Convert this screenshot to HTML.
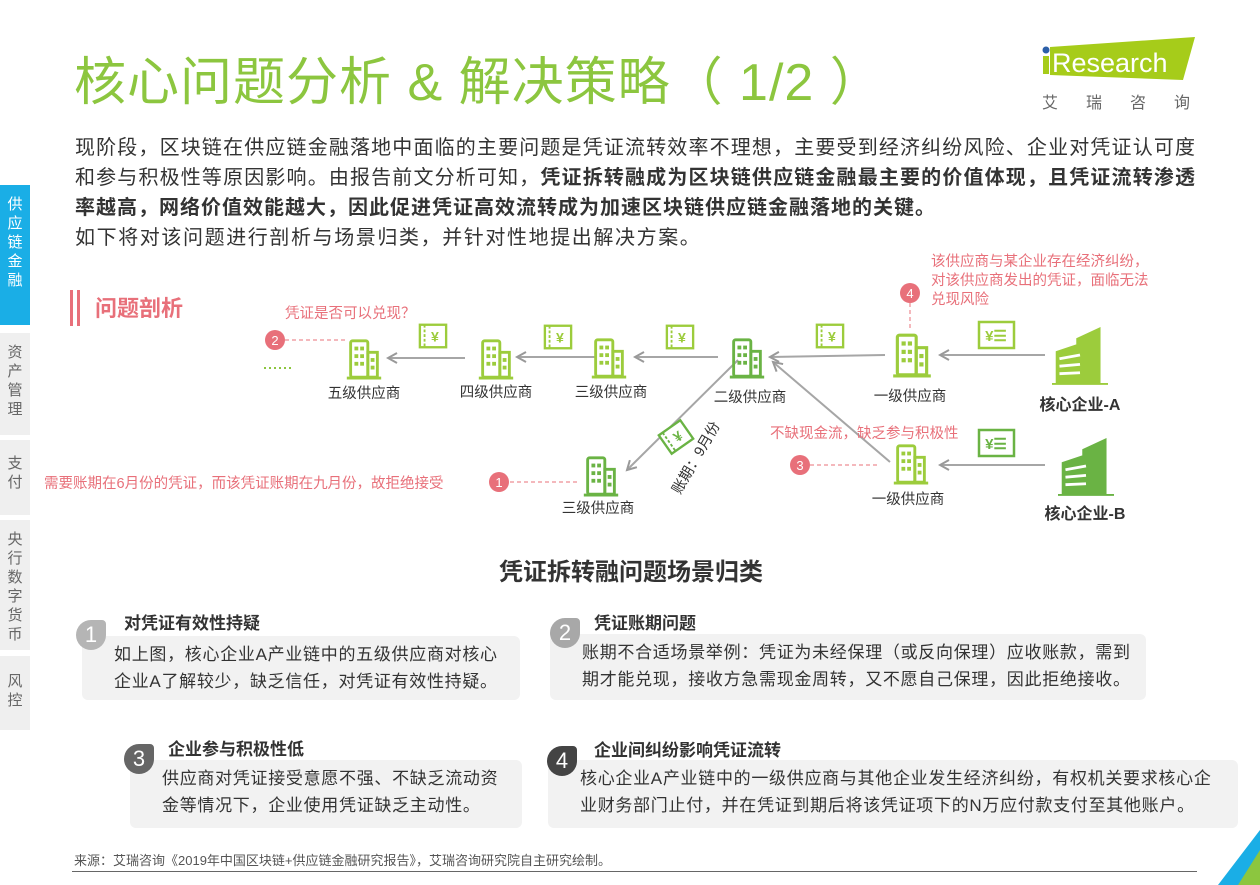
<!DOCTYPE html>
<html><head><meta charset="utf-8">
<style>
*{margin:0;padding:0;box-sizing:border-box}
body{width:1260px;height:885px;background:#fff;position:relative;overflow:hidden;font-family:"Liberation Sans","Noto Sans CJK SC",sans-serif;color:#333}
.a{position:absolute;white-space:nowrap}
.tab{position:absolute;left:0;width:30px;background:#efefef;color:#666;font-size:15px;line-height:19px;text-align:center;padding-top:10px}
.box{position:absolute;background:#f2f2f2;border-radius:6px;font-size:17px;letter-spacing:0.7px;line-height:27px;color:#333;padding:5px 0 0 32px;white-space:nowrap}
.num{position:absolute;width:30px;height:30px;border-radius:15px 4px 15px 15px;color:#fff;font-size:22px;text-align:center;line-height:30px}
.h{position:absolute;font-size:17px;font-weight:bold;color:#333;white-space:nowrap}
.pl{position:absolute;left:75px;width:1120px;font-size:20px;height:30px;line-height:30px;text-align:justify;text-align-last:justify;white-space:nowrap;color:#333}
</style></head><body>
<div class="a" style="left:74px;top:40px;font-size:52px;color:#8cc63f;letter-spacing:1px">核心问题分析 &amp; 解决策略（ 1/2 ）</div>
<svg class="a" style="left:1040px;top:35px" width="160" height="80">
<polygon points="10,12 155,2 143,45 10,40" fill="#a6cc1a"/>
<circle cx="6" cy="15" r="3.5" fill="#2b5fa8"/>
<rect x="3" y="21" width="6" height="18" fill="#a6cc1a"/>
<text x="12" y="37" font-family="Liberation Sans" font-size="27" fill="#fff">Research</text>
<text x="2" y="73" font-family="Noto Sans CJK SC" font-size="16" fill="#666" letter-spacing="28">艾瑞咨询</text>
</svg>
<div class="pl" style="top:133px">现阶段，区块链在供应链金融落地中面临的主要问题是凭证流转效率不理想，主要受到经济纠纷风险、企业对凭证认可度</div>
<div class="pl" style="top:163px">和参与积极性等原因影响。由报告前文分析可知，<b>凭证拆转融成为区块链供应链金融最主要的价值体现，且凭证流转渗透</b></div>
<div class="pl" style="top:193px;width:860px"><b>率越高，网络价值效能越大，因此促进凭证高效流转成为加速区块链供应链金融落地的关键。</b></div>
<div class="a" style="left:75px;top:223px;font-size:20px;line-height:30px;letter-spacing:1.6px">如下将对该问题进行剖析与场景归类，并针对性地提出解决方案。</div>
<div class="tab" style="top:185px;height:140px;background:#1aaee6;color:#fff">供<br>应<br>链<br>金<br>融</div>
<div class="tab" style="top:333px;height:102px">资<br>产<br>管<br>理</div>
<div class="tab" style="top:440px;height:75px;padding-top:14px">支<br>付</div>
<div class="tab" style="top:520px;height:130px">央<br>行<br>数<br>字<br>货<br>币</div>
<div class="tab" style="top:656px;height:74px;padding-top:16px">风<br>控</div>
<div class="a" style="left:70px;top:290px;width:3px;height:36px;background:#e8707a"></div>
<div class="a" style="left:77px;top:290px;width:3px;height:36px;background:#e8707a"></div>
<div class="a" style="left:95px;top:291px;font-size:22px;font-weight:bold;color:#e8707a">问题剖析</div>
<svg class="a" style="left:0;top:0" width="1260" height="560" font-family="Liberation Sans,Noto Sans CJK SC,sans-serif">
<defs>
<symbol id="b" viewBox="0 0 36 44"><g fill="none" stroke="currentColor" stroke-width="3"><rect x="4" y="3" width="18" height="38" rx="2"/><rect x="22" y="15" width="10" height="26"/><line x1="0" y1="42" x2="36" y2="42"/></g><g fill="currentColor"><rect x="8" y="9" width="4" height="4"/><rect x="14" y="9" width="4" height="4"/><rect x="8" y="17" width="4" height="4"/><rect x="14" y="17" width="4" height="4"/><rect x="8" y="25" width="4" height="4"/><rect x="14" y="25" width="4" height="4"/><rect x="25" y="21" width="4" height="4"/><rect x="25" y="29" width="4" height="4"/></g></symbol>
<symbol id="c" viewBox="0 0 60 64"><path d="M26 14 L52 2 L52 62 L26 62Z M4 28 L34 18 L34 62 L4 62Z" fill="currentColor"/><g stroke="#fff" stroke-width="3"><line x1="8" y1="36" x2="30" y2="32"/><line x1="8" y1="44" x2="30" y2="42"/><line x1="8" y1="52" x2="30" y2="51"/></g><line x1="0" y1="63" x2="60" y2="63" stroke="currentColor" stroke-width="2"/></symbol>
<symbol id="v" viewBox="0 0 32 28"><rect x="2" y="2" width="28" height="24" fill="#fff" stroke="currentColor" stroke-width="2.5"/><path d="M7 2 v24" stroke="currentColor" stroke-dasharray="3 2" stroke-width="2"/><text x="18" y="20" font-size="15" font-weight="bold" fill="currentColor" text-anchor="middle">¥</text></symbol>
<marker id="ar" markerWidth="12" markerHeight="12" refX="10" refY="6" orient="auto" markerUnits="userSpaceOnUse"><path d="M1 1 L10 6 L1 11" fill="none" stroke="#999" stroke-width="2"/></marker>
</defs>
<g stroke="#a6a6a6" stroke-width="2" fill="none">
<line x1="465" y1="358" x2="388" y2="358" marker-end="url(#ar)"/>
<line x1="595" y1="357" x2="517" y2="357" marker-end="url(#ar)"/>
<line x1="718" y1="357" x2="635" y2="357" marker-end="url(#ar)"/>
<line x1="885" y1="355" x2="770" y2="357" marker-end="url(#ar)"/>
<line x1="1045" y1="355" x2="940" y2="355" marker-end="url(#ar)"/>
<line x1="1045" y1="465" x2="940" y2="465" marker-end="url(#ar)"/>
<line x1="738" y1="360" x2="627" y2="470" marker-end="url(#ar)"/>
<line x1="890" y1="462" x2="773" y2="362" marker-end="url(#ar)"/>
</g>
<g stroke="#e8707a" stroke-width="1" stroke-dasharray="4 3" fill="none">
<line x1="285" y1="340" x2="345" y2="340"/>
<line x1="510" y1="482" x2="578" y2="482"/>
<line x1="810" y1="465" x2="878" y2="465"/>
<line x1="910" y1="303" x2="910" y2="330"/>
</g>
<line x1="264" y1="368" x2="294" y2="368" stroke="#8cc63f" stroke-width="2" stroke-dasharray="2 3"/>
<g color="#9ccc3c">
<use href="#b" x="346" y="338" width="36" height="42"/>
<use href="#b" x="478" y="338" width="36" height="42"/>
<use href="#b" x="591" y="337" width="36" height="42"/>
<use href="#b" x="893" y="332" width="38" height="46"/>
<use href="#v" x="418" y="322" width="30" height="28"/>
<use href="#v" x="543" y="323" width="30" height="28"/>
<use href="#v" x="665" y="323" width="30" height="28"/>
<use href="#v" x="815" y="322" width="30" height="28"/>
<use href="#b" x="893" y="443" width="36" height="42"/>
<use href="#c" x="1052" y="325" width="56" height="60"/>
</g>
<g color="#6ab344">
<use href="#b" x="728" y="337" width="38" height="42"/>
<use href="#b" x="583" y="455" width="36" height="42"/>
<use href="#c" x="1058" y="436" width="56" height="60"/>
<use href="#v" x="661" y="423" width="30" height="28" transform="rotate(-35 676 437)"/>
</g>
<g><rect x="979" y="322" width="35" height="26" fill="#fff" stroke="#9ccc3c" stroke-width="2.5"/><text x="996" y="341" font-size="15" font-weight="bold" fill="#9ccc3c" text-anchor="middle">¥☰</text></g>
<g><rect x="979" y="430" width="35" height="26" fill="#fff" stroke="#6ab344" stroke-width="2.5"/><text x="996" y="449" font-size="15" font-weight="bold" fill="#6ab344" text-anchor="middle">¥☰</text></g>
<g font-size="14.5" fill="#333" text-anchor="middle">
<text x="364" y="398">五级供应商</text><text x="496" y="397">四级供应商</text><text x="611" y="397">三级供应商</text>
<text x="750" y="402">二级供应商</text><text x="910" y="401">一级供应商</text><text x="598" y="513">三级供应商</text><text x="908" y="504">一级供应商</text>
</g>
<g font-size="16" font-weight="bold" fill="#333" text-anchor="middle"><text x="1080" y="410">核心企业-A</text><text x="1085" y="519">核心企业-B</text></g>
<text x="0" y="0" font-size="14.5" fill="#333" transform="translate(680,495) rotate(-60)">账期：9月份</text>
<g font-size="14.5" fill="#e8707a">
<text x="285" y="318">凭证是否可以兑现？</text>
<text x="44" y="488">需要账期在6月份的凭证，而该凭证账期在九月份，故拒绝接受</text>
<text x="770" y="438">不缺现金流，缺乏参与积极性</text>
<text x="931" y="266">该供应商与某企业存在经济纠纷，</text>
<text x="931" y="285">对该供应商发出的凭证，面临无法</text>
<text x="931" y="304">兑现风险</text>
</g>
<g font-size="13" fill="#fff" text-anchor="middle">
<circle cx="275" cy="340" r="10" fill="#e8707a"/><text x="275" y="345">2</text>
<circle cx="499" cy="482" r="10" fill="#e8707a"/><text x="499" y="487">1</text>
<circle cx="800" cy="465" r="10" fill="#e8707a"/><text x="800" y="470">3</text>
<circle cx="910" cy="293" r="10" fill="#e8707a"/><text x="910" y="298">4</text>
</g>
</svg>
<div class="a" style="left:0;width:1262px;text-align:center;top:552px;font-size:24px;font-weight:bold;color:#333">凭证拆转融问题场景归类</div>
<div class="box" style="left:82px;top:636px;width:438px;height:64px">如上图，核心企业A产业链中的五级供应商对核心<br>企业A了解较少，缺乏信任，对凭证有效性持疑。</div>
<div class="num" style="left:76px;top:620px;background:#b5b5b5">1</div>
<div class="h" style="left:124px;top:609px">对凭证有效性持疑</div>
<div class="box" style="left:550px;top:634px;width:596px;height:66px">账期不合适场景举例：凭证为未经保理（或反向保理）应收账款，需到<br>期才能兑现，接收方急需现金周转，又不愿自己保理，因此拒绝接收。</div>
<div class="num" style="left:550px;top:618px;background:#a8a8a8">2</div>
<div class="h" style="left:594px;top:609px">凭证账期问题</div>
<div class="box" style="left:130px;top:760px;width:392px;height:68px">供应商对凭证接受意愿不强、不缺乏流动资<br>金等情况下，企业使用凭证缺乏主动性。</div>
<div class="num" style="left:124px;top:744px;background:#666">3</div>
<div class="h" style="left:168px;top:735px">企业参与积极性低</div>
<div class="box" style="left:548px;top:760px;width:690px;height:68px">核心企业A产业链中的一级供应商与其他企业发生经济纠纷，有权机关要求核心企<br>业财务部门止付，并在凭证到期后将该凭证项下的N万应付款支付至其他账户。</div>
<div class="num" style="left:547px;top:746px;background:#444">4</div>
<div class="h" style="left:594px;top:736px">企业间纠纷影响凭证流转</div>
<div class="a" style="left:74px;top:850px;font-size:13px;color:#555">来源：艾瑞咨询《2019年中国区块链+供应链金融研究报告》，艾瑞咨询研究院自主研究绘制。</div>
<div class="a" style="left:72px;top:871px;width:1125px;height:1px;background:#666"></div>
<svg class="a" style="left:1210px;top:825px" width="50" height="60"><polygon points="50,5 50,60 8,60" fill="#1aaee6"/><polygon points="50,25 50,60 28,60" fill="#8cc63f"/></svg>
</body></html>
